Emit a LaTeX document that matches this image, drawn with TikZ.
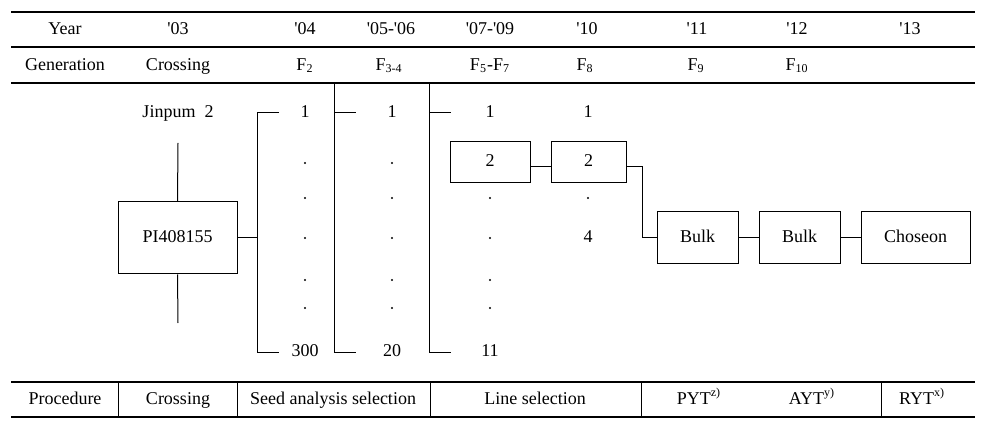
\documentclass[tikz,border=0pt]{standalone}
\usepackage{fontspec}
\setmainfont{Liberation Serif}
\usetikzlibrary{positioning}
\newcommand{\yq}{\textquotesingle}

\begin{document}
\begin{tikzpicture}[
  x=0.5pt, y=-0.5pt,
  node distance=10pt,
  every node/.style={font=\fontsize{9}{11}\selectfont, inner sep=0pt, text height=6.5pt, text depth=2pt},
  rule/.style={line width=0.8pt},
  link/.style={line width=0.5pt},
  box/.style={draw, line width=0.5pt, minimum width=40pt, minimum height=20.5pt},
  bulkbox/.style={box, minimum width=40.5pt, minimum height=26pt},
  dotmark/.style={fill, radius=0.55pt}
]
  \useasboundingbox (0,0) rectangle (985,427);

  % Righe della tabella
  \draw[rule] (11,12) -- (975,12);
  \draw[rule] (11,47) -- (975,47);
  \draw[rule] (11,83) -- (975,83);
  \draw[rule] (11,382) -- (975,382);
  \draw[rule] (11,417) -- (975,417);
  \foreach \x in {118,237,430,641,881}
    \draw[link] (\x,382) -- (\x,417);

  % Intestazione
  \node (year) at (65,30) {Year};
  \node (y03) at (178,30) {\yq03};
  \node (y04) at (305,30) {\yq04};
  \node (y0506) at (391,30) {\yq05-\yq06};
  \node (y0709) at (490,30) {\yq07-\yq09};
  \node (y10) at (587,30) {\yq10};
  \node (y11) at (697,30) {\yq11};
  \node (y12) at (797,30) {\yq12};
  \node (y13) at (910,30) {\yq13};

  \node (gen) at (65,66) {Generation};
  \node (gcross) at (178,66) {Crossing};
  \node (gf2) at (305,66) {F\textsubscript{2}};
  \node (gf34) at (389,66) {F\textsubscript{3-4}};
  \node (gf57) at (490,66) {F\textsubscript{5}-F\textsubscript{7}};
  \node (gf8) at (585,66) {F\textsubscript{8}};
  \node (gf9) at (696,66) {F\textsubscript{9}};
  \node (gf10) at (797,66) {F\textsubscript{10}};

  % Incrocio
  \node (jinpum) at (178,113) {Jinpum\ \ 2};
  \node[box, minimum width=59.5pt, minimum height=36pt] (pi) at (177.5,238) {PI408155};
  \coordinate (piTop) at (178,143);
  \coordinate (piBot) at (178,323);
  \draw[link] (piTop) -- (pi.north);
  \draw[link] (pi.south) -- (piBot);

  % Colonne di linee
  \node (fA1) at (305,113) {1};
  \node (fA300) at (305,352) {300};
  \node (fB1) at (392,113) {1};
  \node (fB20) at (392,352) {20};
  \node (fC1) at (490,113) {1};
  \node (fC11) at (490,352) {11};
  \node (fD1) at (588,113) {1};
  \node (fD4) at (588,238) {4};
  \node[box] (lineA) at (490,162.5) {2};
  \node[box, minimum width=37.5pt] (lineB) at (588.5,162.5) {2};

  \foreach \y in {163,198,238,280,308} {
    \fill (305,\y) circle[dotmark];
    \fill (392,\y) circle[dotmark];
  }
  \foreach \y in {198,238,280,308}
    \fill (490,\y) circle[dotmark];
  \fill (588,198) circle[dotmark];

  % Parentesi
  \coordinate (brA) at (257,113);
  \coordinate (brB) at (334,83);
  \coordinate (brC) at (429,83);
  \draw[link] (pi.east) -- (pi.east -| brA);
  \draw[link] ([xshift=11pt]brA) -- (brA) -- (brA |- fA300) -- ++(22,0);
  \draw[link] (brB) -- (brB |- fB20) -- ++(22,0);
  \draw[link] (brB |- fB1) -- ++(22,0);
  \draw[link] (brC) -- (brC |- fC11) -- ++(22,0);
  \draw[link] (brC |- fC1) -- ++(22,0);

  % Prove finali
  \node[bulkbox] (bulkA) at (697.5,238) {Bulk};
  \node[bulkbox, right=of bulkA] (bulkB) {Bulk};
  \node[bulkbox, minimum width=54.5pt, right=of bulkB] (choseon) {Choseon};

  \draw[link] ([yshift=-2.25pt]lineA.east) -- ([yshift=-2.25pt]lineB.west);
  \draw[link] ([yshift=-2.25pt]lineB.east) -- ++(16,0) |- (bulkA.west);
  \draw[link] (bulkA) -- (bulkB);
  \draw[link] (bulkB) -- (choseon);

  % Procedura
  \node (proc) at (65,400) {Procedure};
  \node (pcross) at (178,400) {Crossing};
  \node (pseed) at (333,400) {Seed\ analysis\ selection};
  \node (pline) at (535,400) {Line selection};
  \node (pyt) at (699,400) {PYT\textsuperscript{z)}};
  \node (ayt) at (812,400) {AYT\textsuperscript{y)}};
  \node (ryt) at (922,400) {RYT\textsuperscript{x)}};

\end{tikzpicture}
\end{document}
